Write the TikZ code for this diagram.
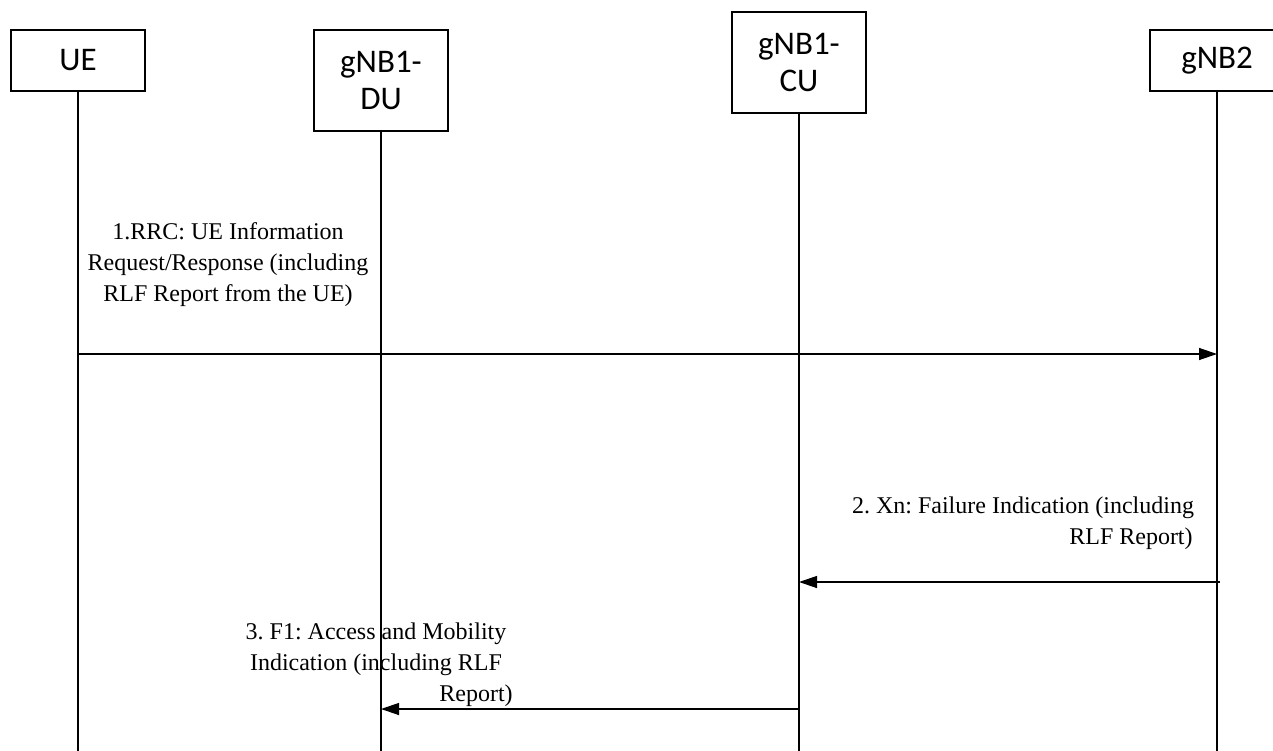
\documentclass[tikz,border=0pt]{standalone}
\usepackage{fontspec}
\setmainfont{Liberation Serif}
\newfontfamily\boxfont{Carlito}
\usetikzlibrary{arrows.meta}
\frenchspacing

\begin{document}
\begin{tikzpicture}[
    x=1pt, y=-1pt,
    >={Triangle[length=18pt,width=12pt]},
    % Styles
    entity_box/.style={draw, line width=1.3pt, minimum width=134pt, inner sep=0pt, align=center, font=\boxfont\fontsize{33}{37}\selectfont},
    life_line/.style={line width=1.3pt},
    msg_arrow/.style={->, line width=1.3pt},
    msg_label/.style={align=center, font=\fontsize{24}{31}\selectfont}
]

    % ==========================================
    % 1. FRAME
    % ==========================================
    \useasboundingbox (0,0) rectangle (1273,751);
    \clip (0,0) rectangle (1273,751);
    \coordinate (bottom) at (0,751);

    % ==========================================
    % 2. ENTITIES
    % ==========================================
    \node[entity_box, minimum height=61pt]  (ue)  at (78,60.5)   {UE};
    \node[entity_box, minimum height=101pt] (du)  at (381,80.5)  {gNB1-\\DU};
    \node[entity_box, minimum height=101pt] (cu)  at (799,62.5)  {gNB1-\\CU};
    \node[entity_box, minimum height=61pt]  (gnb) at (1217,60.5) {gNB2};

    % Lifelines
    \foreach \e in {ue, du, cu, gnb} {
        \draw[life_line] (\e.south) -- (\e.south |- bottom);
    }

    % ==========================================
    % 3. MESSAGE END POINTS
    % ==========================================
    \path (ue.south |- 0,354)  coordinate (m1a);
    \path (gnb.south |- 0,354) coordinate (m1b);
    \path (gnb.south |- 0,582) ++(3,0) coordinate (m2a);
    \path (cu.south |- 0,582)  coordinate (m2b);
    \path (cu.south |- 0,709)  coordinate (m3a);
    \path (du.south |- 0,709)  coordinate (m3b);

    % ==========================================
    % 4. MESSAGES
    % ==========================================
    \draw[msg_arrow] (m1a) -- (m1b);
    \draw[msg_arrow] (m2a) -- (m2b);
    \draw[msg_arrow] (m3a) -- (m3b);

    % ==========================================
    % 5. LABELS
    % ==========================================
    \node[msg_label] (l1) at (228,265)
        {1.RRC: UE Information\\Request/Response (including\\RLF Report from the UE)};
    \node[msg_label] (l2) at (1023,523)
        {2. Xn: Failure Indication (including\\\hspace*{216pt}RLF Report)};
    \node[msg_label] (l3) at (376,665)
        {3. F1: Access and Mobility\\Indication (including RLF\\\hspace*{200pt}Report)};

\end{tikzpicture}
\end{document}
